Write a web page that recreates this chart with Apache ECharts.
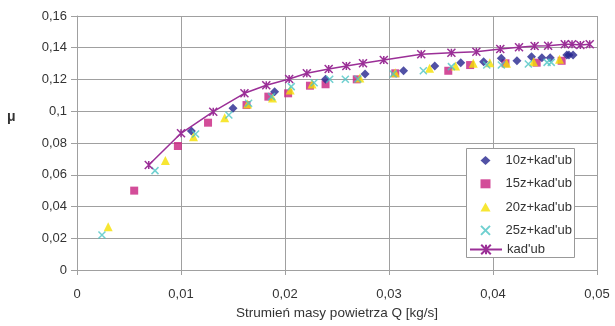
<!DOCTYPE html>
<html><head><meta charset="utf-8">
<script src="https://cdn.jsdelivr.net/npm/echarts@6/dist/echarts.min.js"></script>
<style>html,body{margin:0;padding:0;background:#fff}#c{width:615px;height:326px}</style>
</head><body><div id="c"></div>
<script>
const xTicks = [0, 0.01, 0.02, 0.03, 0.04, 0.05];
const yTicks = [0, 0.02, 0.04, 0.06, 0.08, 0.1, 0.12, 0.14, 0.16];
const seriesNames = ["10z+kad'ub", "15z+kad'ub", "20z+kad'ub", "25z+kad'ub", "kad'ub"];
const s10z = [[0.0110,0.0876],[0.0150,0.1019],[0.0190,0.1123],[0.0239,0.1201],[0.0277,0.1235],[0.0314,0.1255],[0.0344,0.1285],[0.0369,0.1306],[0.0391,0.1312],[0.0408,0.1334],[0.0423,0.1318],[0.0437,0.1344],[0.0447,0.1337],[0.0455,0.1337],[0.0471,0.1354],[0.0473,0.1354],[0.0477,0.1354]];
const s15z = [[0.0055,0.0500],[0.0097,0.0781],[0.0126,0.0928],[0.0163,0.1039],[0.0184,0.1092],[0.0203,0.1113],[0.0224,0.1161],[0.0239,0.1170],[0.0269,0.1201],[0.0306,0.1239],[0.0357,0.1255],[0.0378,0.1291],[0.0412,0.1302],[0.0442,0.1306],[0.0466,0.1318]];
const s20z = [[0.0030,0.0273],[0.0085,0.0689],[0.0112,0.0840],[0.0142,0.0959],[0.0164,0.1046],[0.0188,0.1084],[0.0205,0.1134],[0.0226,0.1172],[0.0272,0.1209],[0.0306,0.1243],[0.0339,0.1271],[0.0364,0.1285],[0.0381,0.1302],[0.0397,0.1306],[0.0413,0.1302],[0.0439,0.1312],[0.0464,0.1328]];
const s25z = [[0.0024,0.0221],[0.0075,0.0626],[0.0114,0.0857],[0.0146,0.0976],[0.0165,0.1050],[0.0187,0.1092],[0.0206,0.1155],[0.0228,0.1180],[0.0243,0.1201],[0.0258,0.1201],[0.0270,0.1203],[0.0304,0.1235],[0.0333,0.1255],[0.0360,0.1281],[0.0394,0.1291],[0.0408,0.1291],[0.0434,0.1298],[0.0452,0.1308],[0.0456,0.1308]];
const sKad = [[0.0069,0.0661],[0.0100,0.0861],[0.0131,0.0997],[0.0161,0.1113],[0.0182,0.1164],[0.0204,0.1203],[0.0221,0.1239],[0.0242,0.1266],[0.0259,0.1285],[0.0275,0.1302],[0.0295,0.1323],[0.0331,0.1359],[0.0360,0.1369],[0.0384,0.1375],[0.0407,0.1392],[0.0425,0.1403],[0.0440,0.1411],[0.0453,0.1413],[0.0469,0.1422],[0.0476,0.1422],[0.0484,0.1417],[0.0493,0.1422]];

const fmt = v => String(+(+v).toFixed(3)).replace('.', ',');
const font = 'Liberation Sans, Arial, sans-serif';
const gridColor = '#a0a0a0';
const textColor = '#333';
const chart = echarts.init(document.getElementById('c'), null, {renderer: 'canvas'});
const xPath = 'path://M0,0L10,10M10,0L0,10';
const starPath = 'path://M0,0L10,10M10,0L0,10M5,0L5,10';
const legendText = {fontSize: 13, color: textColor, fontFamily: font, lineHeight: 12};
chart.setOption({
  animation: false,
  backgroundColor: '#fff',
  textStyle: {fontFamily: font},
  grid: {left: 77, right: 18, top: 16, bottom: 56},
  graphic: [
    {type: 'rect', z: 10, shape: {x: 466.5, y: 148.5, width: 108, height: 109},
     style: {fill: '#fff', stroke: '#999', lineWidth: 1}},
    {type: 'text', z: 10, left: 7, top: 110,
     style: {text: 'μ', fontSize: 14, fontWeight: 'bold', fill: textColor, fontFamily: font}}
  ],
  xAxis: {
    type: 'value', min: xTicks[0], max: xTicks[xTicks.length - 1], interval: 0.01,
    name: 'Strumień masy powietrza Q [kg/s]', nameLocation: 'middle', nameGap: 36,
    nameTextStyle: {fontSize: 13.5, color: textColor, fontFamily: font},
    axisLine: {lineStyle: {color: gridColor}}, axisTick: {show: true, length: 5, lineStyle: {color: gridColor}},
    axisLabel: {formatter: fmt, fontSize: 13, color: textColor, margin: 18, fontFamily: font},
    splitLine: {show: true, lineStyle: {color: gridColor, width: 1}}
  },
  yAxis: {
    type: 'value', min: yTicks[0], max: yTicks[yTicks.length - 1], interval: 0.02,
    axisLine: {show: true, lineStyle: {color: gridColor}}, axisTick: {show: true, length: 6, lineStyle: {color: gridColor}},
    axisLabel: {formatter: fmt, fontSize: 13, color: textColor, margin: 10, fontFamily: font},
    splitLine: {show: true, lineStyle: {color: gridColor, width: 1}}
  },
  legend: [
    {orient: 'vertical', left: 480, top: 154, z: 20,
     padding: 0, itemGap: 10.3, itemWidth: 10, itemHeight: 9,
     textStyle: Object.assign({padding: [0, 0, 0, 10]}, legendText),
     data: seriesNames.slice(0, 4)},
    {orient: 'vertical', left: 469, top: 243, z: 20,
     padding: 0, itemGap: 0, itemWidth: 32, itemHeight: 12,
     textStyle: Object.assign({padding: [0, 0, 0, 0]}, legendText),
     data: seriesNames.slice(4)}
  ],
  series: [
    {name: seriesNames[0], type: 'scatter', data: s10z, symbol: 'diamond', symbolSize: 9,
     itemStyle: {color: '#26268f'}, z: 3},
    {name: seriesNames[1], type: 'scatter', data: s15z, symbol: 'rect', symbolSize: 8,
     itemStyle: {color: '#c8207f'}, z: 2},
    {name: seriesNames[2], type: 'scatter', data: s20z, symbol: 'triangle', symbolSize: 9,
     itemStyle: {color: '#f5e000'}, z: 3},
    {name: seriesNames[3], type: 'scatter', data: s25z, symbol: xPath, symbolSize: 7,
     itemStyle: {color: 'rgba(0,0,0,0)', borderColor: '#4cc4c4', borderWidth: 1.5}, z: 4},
    {name: seriesNames[4], type: 'line', data: sKad, smooth: false, symbol: starPath, symbolSize: 8,
     showAllSymbol: true,
     lineStyle: {color: '#9b2f97', width: 1.5},
     itemStyle: {color: 'rgba(0,0,0,0)', borderColor: '#9b2f97', borderWidth: 1.5}, z: 5}
  ]
});
</script></body></html>
